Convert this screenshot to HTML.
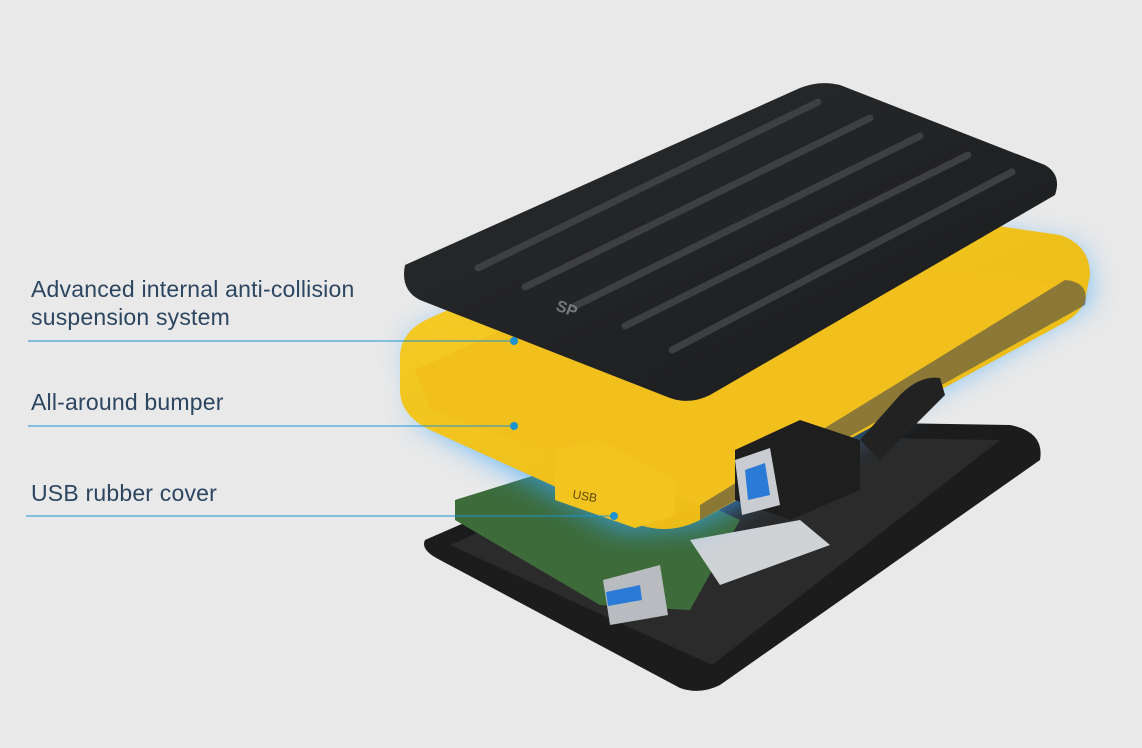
<!DOCTYPE html>
<html><head><meta charset="utf-8"><style>
html,body{margin:0;padding:0;background:#e9e9e9;}
.wrap{position:relative;width:1142px;height:748px;overflow:hidden;background:#e9e9e9;font-family:"Liberation Sans",sans-serif;}
.lbl{position:absolute;left:31px;color:#2c4560;font-size:23px;line-height:28px;letter-spacing:0.2px;}
</style></head><body><div class="wrap">
<svg width="1142" height="748" style="position:absolute;left:0;top:0">
<defs>
<filter id="glow" x="-20%" y="-20%" width="140%" height="140%"><feGaussianBlur stdDeviation="14"/></filter>
<linearGradient id="lid" x1="0" y1="0" x2="1" y2="1"><stop offset="0" stop-color="#2a2b2d"/><stop offset="1" stop-color="#1a1b1c"/></linearGradient>
<linearGradient id="yel" x1="0" y1="0" x2="1" y2="1"><stop offset="0" stop-color="#f7cf2a"/><stop offset="1" stop-color="#e8b40f"/></linearGradient>
</defs>
<path d="M425,540 L700,420 L1010,425 Q1045,432 1040,460 L720,685 Q700,695 680,688 L440,560 Q420,550 425,540Z" fill="#1c1c1d"/>
<path d="M450,545 L700,435 L1000,440 L712,665 Z" fill="#2b2b2c"/>
<path d="M455,500 L600,455 L740,520 L690,610 L600,605 L455,520Z" fill="#3d6b3a"/>
<path d="M690,540 L800,520 L830,545 L720,585Z" fill="#cfd3d6"/>
<path d="M603,580 L660,565 L668,615 L610,625Z" fill="#b8bcc0"/>
<path d="M606,592 L640,585 L642,600 L608,606Z" fill="#2a7bd8"/>
<path d="M410,340 L720,190 L1080,250 L1090,300 L700,525 L620,530 L420,420Z" fill="#3aa8ff" opacity="0.75" filter="url(#glow)"/>
<path d="M400,355 Q402,330 430,318 L705,195 Q725,185 750,190 L1060,235 Q1090,245 1090,275 L1085,300 Q1080,315 1060,325 L700,520 Q670,535 640,525 L430,430 Q400,415 400,390Z" fill="url(#yel)"/>
<path d="M415,370 L700,240 L1070,285 L1075,300 L700,505 L430,410Z" fill="#f2c01c"/>
<path d="M1065,280 Q1090,282 1085,305 L700,520 L700,505Z" fill="#4a4a4a" opacity="0.6"/>
<path d="M555,450 L600,440 L675,480 L675,515 L635,528 L555,500Z" fill="#f4c41e"/>
<text x="572" y="498" font-size="12" fill="#5a4a10" font-family="Liberation Sans" transform="rotate(10 572 498)">USB</text>
<path d="M735,450 L800,420 L860,440 L860,490 L790,520 L735,500Z" fill="#1e1e1f"/>
<path d="M735,460 L770,448 L780,505 L742,515Z" fill="#c9ccd0"/>
<path d="M745,470 L765,463 L770,495 L748,500Z" fill="#2a7bd8"/>
<path d="M860,440 L900,395 Q920,375 940,378 L945,395 L880,460Z" fill="#222"/>
<path d="M405,265 L800,88 Q820,80 840,85 L1045,165 Q1062,175 1055,195 L710,395 Q690,405 670,398 L420,300 Q400,290 405,265Z" fill="url(#lid)"/>
<g stroke="#3e3f41" stroke-width="7" stroke-linecap="round">
<line x1="478" y1="268" x2="818" y2="102"/>
<line x1="525" y1="287" x2="870" y2="118"/>
<line x1="575" y1="306" x2="920" y2="136"/>
<line x1="625" y1="326" x2="968" y2="155"/>
<line x1="672" y1="350" x2="1012" y2="172"/>
</g>
<text x="555" y="310" font-size="16" fill="#777" font-family="Liberation Sans" font-weight="bold" transform="rotate(20 555 310)">SP</text>
<g stroke="#1a93cf" stroke-width="1">
<line x1="28" y1="341" x2="514" y2="341"/>
<line x1="28" y1="426" x2="514" y2="426"/>
<line x1="26" y1="516" x2="614" y2="516"/>
</g>
<g fill="#1a93cf"><circle cx="514" cy="341" r="4"/><circle cx="514" cy="426" r="4"/><circle cx="614" cy="516" r="4"/></g>
</svg>
<div class="lbl" style="top:275px">Advanced internal anti-collision<br>suspension system</div>
<div class="lbl" style="top:388px">All-around bumper</div>
<div class="lbl" style="top:479px">USB rubber cover</div>
</div></body></html>
